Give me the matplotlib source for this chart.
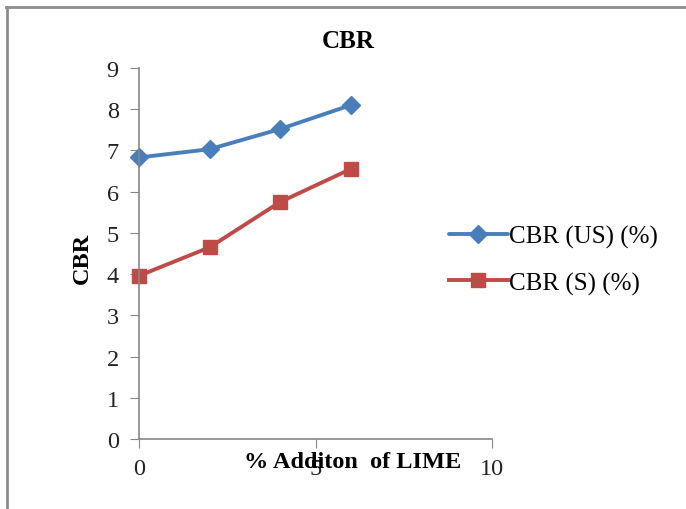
import matplotlib
matplotlib.use("Agg")
import matplotlib.pyplot as plt
from matplotlib.lines import Line2D

lime_pct = [0, 2, 4, 6]
cbr_us = [6.83, 7.03, 7.52, 8.1]
cbr_s = [3.96, 4.65, 5.75, 6.55]
series_labels = ["CBR (US) (%)", "CBR (S) (%)"]
x_ticks = [0, 5, 10]
y_ticks = list(range(0, 10))

plt.rcParams['font.family'] = ['Liberation Serif', 'DejaVu Serif']

fig = plt.figure(figsize=(6.86, 5.10), dpi=100)
W, H = 686, 510
ax = fig.add_axes([139 / W, 1 - 440 / H, (492 - 139) / W, (440 - 69) / H])

blue = "#4A7EBB"
red = "#BE4B48"
ax.plot(lime_pct, cbr_us, color=blue, lw=2.8, marker="D", ms=9,
        label=series_labels[0], solid_capstyle="round")
ax.plot(lime_pct, cbr_s, color=red, lw=2.8, marker="s", ms=10.5,
        label=series_labels[1])

ax.set_xlim(0, 10)
ax.set_ylim(0, 9)
ax.set_xticks(x_ticks)
ax.set_yticks(y_ticks)
for s in ["top", "right"]:
    ax.spines[s].set_visible(False)
for s in ["left", "bottom"]:
    ax.spines[s].set_color("#868686")
    ax.spines[s].set_linewidth(1.2)
ax.tick_params(axis="both", direction="out", length=6.5, color="#868686",
               labelsize=17.5, labelcolor="#222222")
ax.tick_params(axis="y", pad=8)
ax.tick_params(axis="x", pad=7)
for ln in ax.lines:
    ln.set_clip_on(False)

fig.text(348 / W, 1 - 42 / H, "CBR", ha="center", va="center",
         fontsize=18, fontweight="bold")
fig.text(353 / W, 1 - 463 / H, "% Additon  of LIME", ha="center", va="center",
         fontsize=17.5, fontweight="bold")
fig.text(82 / W, 1 - 258 / H, "CBR", ha="center", va="center",
         rotation=90, fontsize=17.5, fontweight="bold")

leg = ax.legend(loc="center left", bbox_to_anchor=(439 / W, 1 - 261 / H),
                bbox_transform=fig.transFigure, frameon=False, fontsize=18,
                handlelength=2.35, handletextpad=0.05, labelspacing=0.92,
                borderaxespad=0)

# frame border (top and left)
fig.add_artist(Line2D([6 / W, 1], [1 - 8 / H, 1 - 8 / H], color="#8c8c8c", lw=2,
                      transform=fig.transFigure))
fig.add_artist(Line2D([7 / W, 7 / W], [0, 1 - 8 / H], color="#8c8c8c", lw=2,
                      transform=fig.transFigure))

fig.savefig("out.png", dpi=100)
